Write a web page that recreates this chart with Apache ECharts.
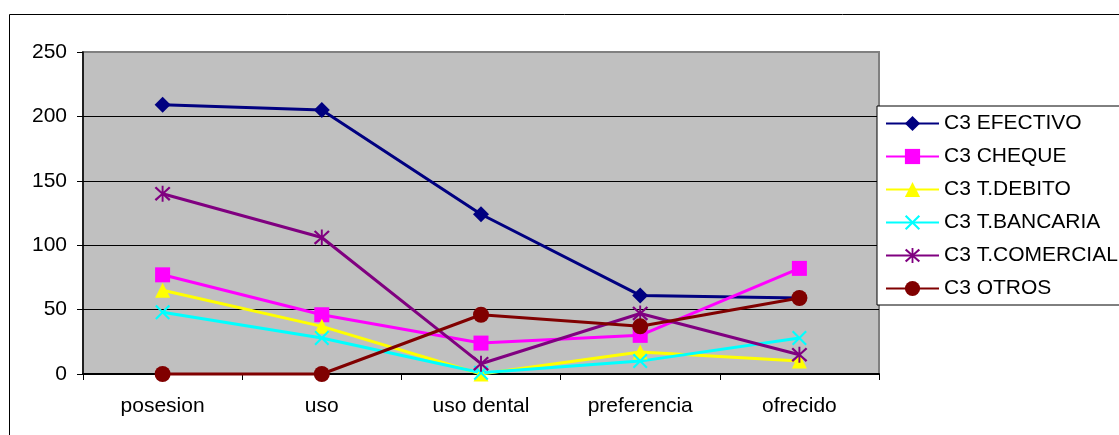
<!DOCTYPE html>
<html>
<head>
<meta charset="utf-8">
<script src="https://cdn.jsdelivr.net/npm/echarts@6/dist/echarts.min.js"></script>
<style>
  html, body { margin: 0; padding: 0; background: #fff; }
  #chart { width: 1119px; height: 435px; }
</style>
</head>
<body>
<div id="chart"></div>
<script>
// Categories and values per series
const categories = ['posesion', 'uso', 'uso dental', 'preferencia', 'ofrecido'];
const efectivo   = [209, 205, 124, 61, 59];
const cheque     = [77, 46, 24, 30, 82];
const debito     = [65, 37, 0, 17, 10];
const bancaria   = [48, 28, 1, 10, 28];
const comercial  = [140, 106, 8, 47, 15];
const otros      = [0, 0, 46, 37, 59];
const yTicks     = [0, 50, 100, 150, 200, 250];

const FONT = '"Liberation Sans", Arial, sans-serif';

// Marker shapes: an X cross and an asterisk (X plus vertical bar)
const CROSS = 'path://M0,1L1,0L5,4L9,0L10,1L6,5L10,9L9,10L5,6L1,10L0,9L4,5Z';
const STAR  = 'path://M0,1.5L1,0.5L5,4.2L9,0.5L10,1.5L6,5L10,8.5L9,9.5L5,5.8L1,9.5L0,8.5L4,5Z' +
              'M4.4,0L5.6,0L5.6,10L4.4,10Z';

function lineSeries(name, data, color, symbol, size) {
  return {
    name: name,
    type: 'line',
    data: data,
    symbol: symbol,
    symbolSize: size,
    showAllSymbol: true,
    clip: false,
    lineStyle: { color: color, width: 3 },
    itemStyle: { color: color, borderWidth: 0 },
    emphasis: { disabled: true }
  };
}

const chart = echarts.init(document.getElementById('chart'), null, { renderer: 'canvas' });
chart.setOption({
  animation: false,
  backgroundColor: '#ffffff',
  textStyle: { fontFamily: FONT },
  graphic: [{
    type: 'rect',
    shape: { x: 9.5, y: 14.5, width: 1300, height: 600 },
    style: { fill: 'none', stroke: '#000', lineWidth: 1 },
    silent: true,
    z: -10
  }],
  grid: {
    left: 83, top: 52, right: 240, bottom: 61,
    show: true,
    backgroundColor: '#C0C0C0',
    borderColor: '#808080',
    borderWidth: 2
  },
  legend: {
    orient: 'vertical',
    left: 877, top: 106,
    backgroundColor: '#ffffff',
    borderColor: '#000',
    borderWidth: 1,
    borderRadius: 0,
    padding: [7, 8, 6, 8],
    itemWidth: 53,
    itemHeight: 19,
    itemGap: 12,
    textStyle: { fontSize: 21, lineHeight: 21, color: '#000', fontFamily: FONT },
    data: ['C3 EFECTIVO', 'C3 CHEQUE', 'C3 T.DEBITO', 'C3 T.BANCARIA', 'C3 T.COMERCIAL', 'C3 OTROS']
  },
  xAxis: {
    type: 'category',
    data: categories,
    boundaryGap: true,
    axisLine: { lineStyle: { color: '#000', width: 2 } },
    axisTick: { show: true, length: 6, lineStyle: { color: '#000', width: 1 } },
    axisLabel: { fontSize: 21, color: '#000', margin: 22, fontFamily: FONT }
  },
  yAxis: {
    type: 'value',
    min: yTicks[0],
    max: yTicks[yTicks.length - 1],
    interval: 50,
    axisLine: { show: true, lineStyle: { color: '#000', width: 1.5 } },
    axisTick: { show: true, length: 6, lineStyle: { color: '#000', width: 1 } },
    axisLabel: { fontSize: 21, color: '#000', margin: 16, fontFamily: FONT },
    splitLine: { show: true, lineStyle: { color: ['#000', '#000', '#000', '#000', '#000', '#808080'], width: 1 } }
  },
  series: [
    lineSeries('C3 EFECTIVO', efectivo, '#000080', 'diamond', 16),
    lineSeries('C3 CHEQUE', cheque, '#FF00FF', 'rect', 15),
    lineSeries('C3 T.DEBITO', debito, '#FFFF00', 'triangle', 15),
    lineSeries('C3 T.BANCARIA', bancaria, '#00FFFF', CROSS, 15),
    lineSeries('C3 T.COMERCIAL', comercial, '#800080', STAR, 16),
    lineSeries('C3 OTROS', otros, '#800000', 'circle', 16)
  ]
});
</script>
</body>
</html>
